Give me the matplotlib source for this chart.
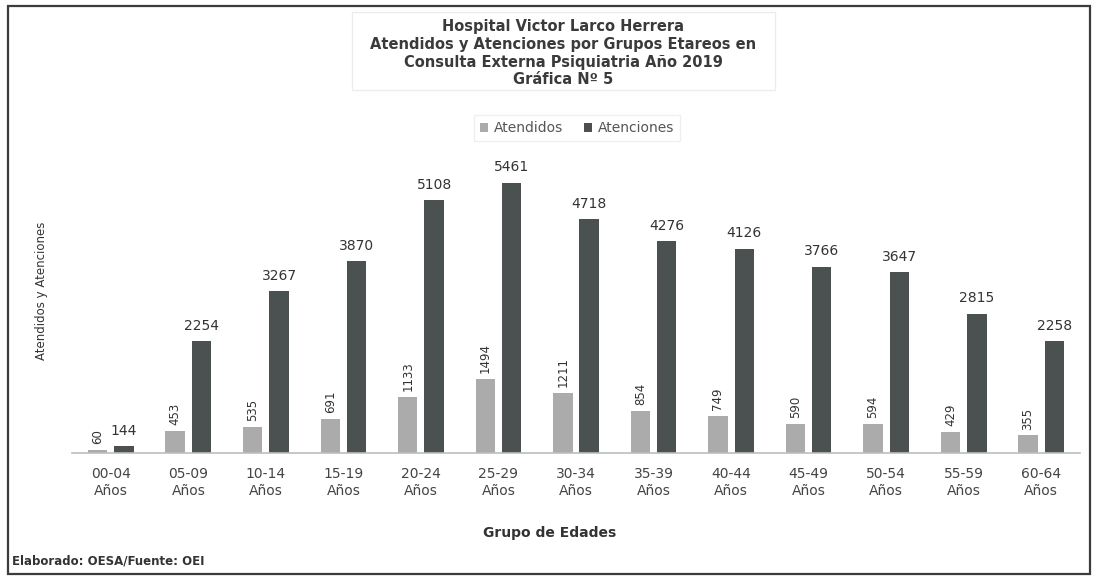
import matplotlib
matplotlib.use("Agg")
import matplotlib.pyplot as plt
from matplotlib.patches import Rectangle
import numpy as np

# data
grupos = ["00-04", "05-09", "10-14", "15-19", "20-24", "25-29", "30-34",
          "35-39", "40-44", "45-49", "50-54", "55-59", "60-64"]
atendidos = [60, 453, 535, 691, 1133, 1494, 1211, 854, 749, 590, 594, 429, 355]
atenciones = [144, 2254, 3267, 3870, 5108, 5461, 4718, 4276, 4126, 3766, 3647, 2815, 2258]

C_ATENDIDOS = "#ababab"
C_ATENCIONES = "#4b5050"

plt.rcParams["font.family"] = ["DejaVu Sans"]

fig = plt.figure(figsize=(10.98, 5.80), dpi=100)
ax = fig.add_axes([0.0656, 0.219, 0.918, 0.512])

x = np.arange(len(grupos))
off, w = 0.17, 0.25
b1 = ax.bar(x - off, atendidos, w, color=C_ATENDIDOS, label="Atendidos")
b2 = ax.bar(x + off, atenciones, w, color=C_ATENCIONES, label="Atenciones")

for xi, v in zip(x, atendidos):
    ax.annotate(str(v), (xi - off, v), xytext=(0, 4), textcoords="offset points",
                rotation=90, ha="center", va="bottom", fontsize=8.5,
                color="#333333")
for xi, v in zip(x, atenciones):
    ax.annotate(str(v), (xi + off, v), xytext=(0, 6), textcoords="offset points",
                ha="center", va="bottom", fontsize=10, color="#333333")

ax.set_xlim(-0.5, len(grupos) - 0.5)
ax.set_ylim(0, 6000)
ax.set_xticks(x)
ax.set_xticklabels([g + "\nAños" for g in grupos], fontsize=10, color="#444444",
                   linespacing=1.25)
ax.tick_params(axis="x", length=0, pad=10)
ax.set_yticks([])
for s in ["top", "right", "left"]:
    ax.spines[s].set_visible(False)
ax.spines["bottom"].set_color("#bdbdbd")
ax.spines["bottom"].set_linewidth(1.2)

# texts around the plot
fig.text(42 / 1098, 1 - 291 / 580, "Atendidos y Atenciones", rotation=90,
         ha="center", va="center", fontsize=8.5, color="#333333")
title = ("Hospital Victor Larco Herrera\n"
         "Atendidos y Atenciones por Grupos Etareos en\n"
         "Consulta Externa Psiquiatria Año 2019\n"
         "Gráfica Nº 5")
fig.text(563 / 1098, 1 - 53 / 580, title, ha="center", va="center",
         fontsize=10.5, fontweight="bold", color="#3a3a3a", linespacing=1.25)
fig.patches.append(Rectangle((352 / 1098, 1 - 90 / 580), 423 / 1098, 78 / 580,
                             transform=fig.transFigure, fill=False,
                             edgecolor="#ececec", linewidth=1))

leg = fig.legend(handles=[b1, b2], loc="center", bbox_to_anchor=(577 / 1098, 1 - 128 / 580),
                 ncol=2, frameon=True, fontsize=10, handlelength=0.6, handleheight=0.6,
                 handletextpad=0.4, columnspacing=1.5, borderpad=0.4, fancybox=False)
leg.get_frame().set_edgecolor("#ececec")
for t in leg.get_texts():
    t.set_color("#555555")

fig.text(550 / 1098, 1 - 533 / 580, "Grupo de Edades", ha="center", va="center",
         fontsize=10, fontweight="bold", color="#333333")
fig.text(12 / 1098, 1 - 561 / 580, "Elaborado: OESA/Fuente: OEI", ha="left", va="center",
         fontsize=8.5, fontweight="bold", color="#333333")

# outer frame of the scanned chart
fig.patches.append(Rectangle((8 / 1098, 6 / 580), 1082 / 1098, 568 / 580,
                             transform=fig.transFigure, fill=False,
                             edgecolor="#3c3c3c", linewidth=1.6))

fig.savefig("out.png", dpi=100, facecolor="white")
